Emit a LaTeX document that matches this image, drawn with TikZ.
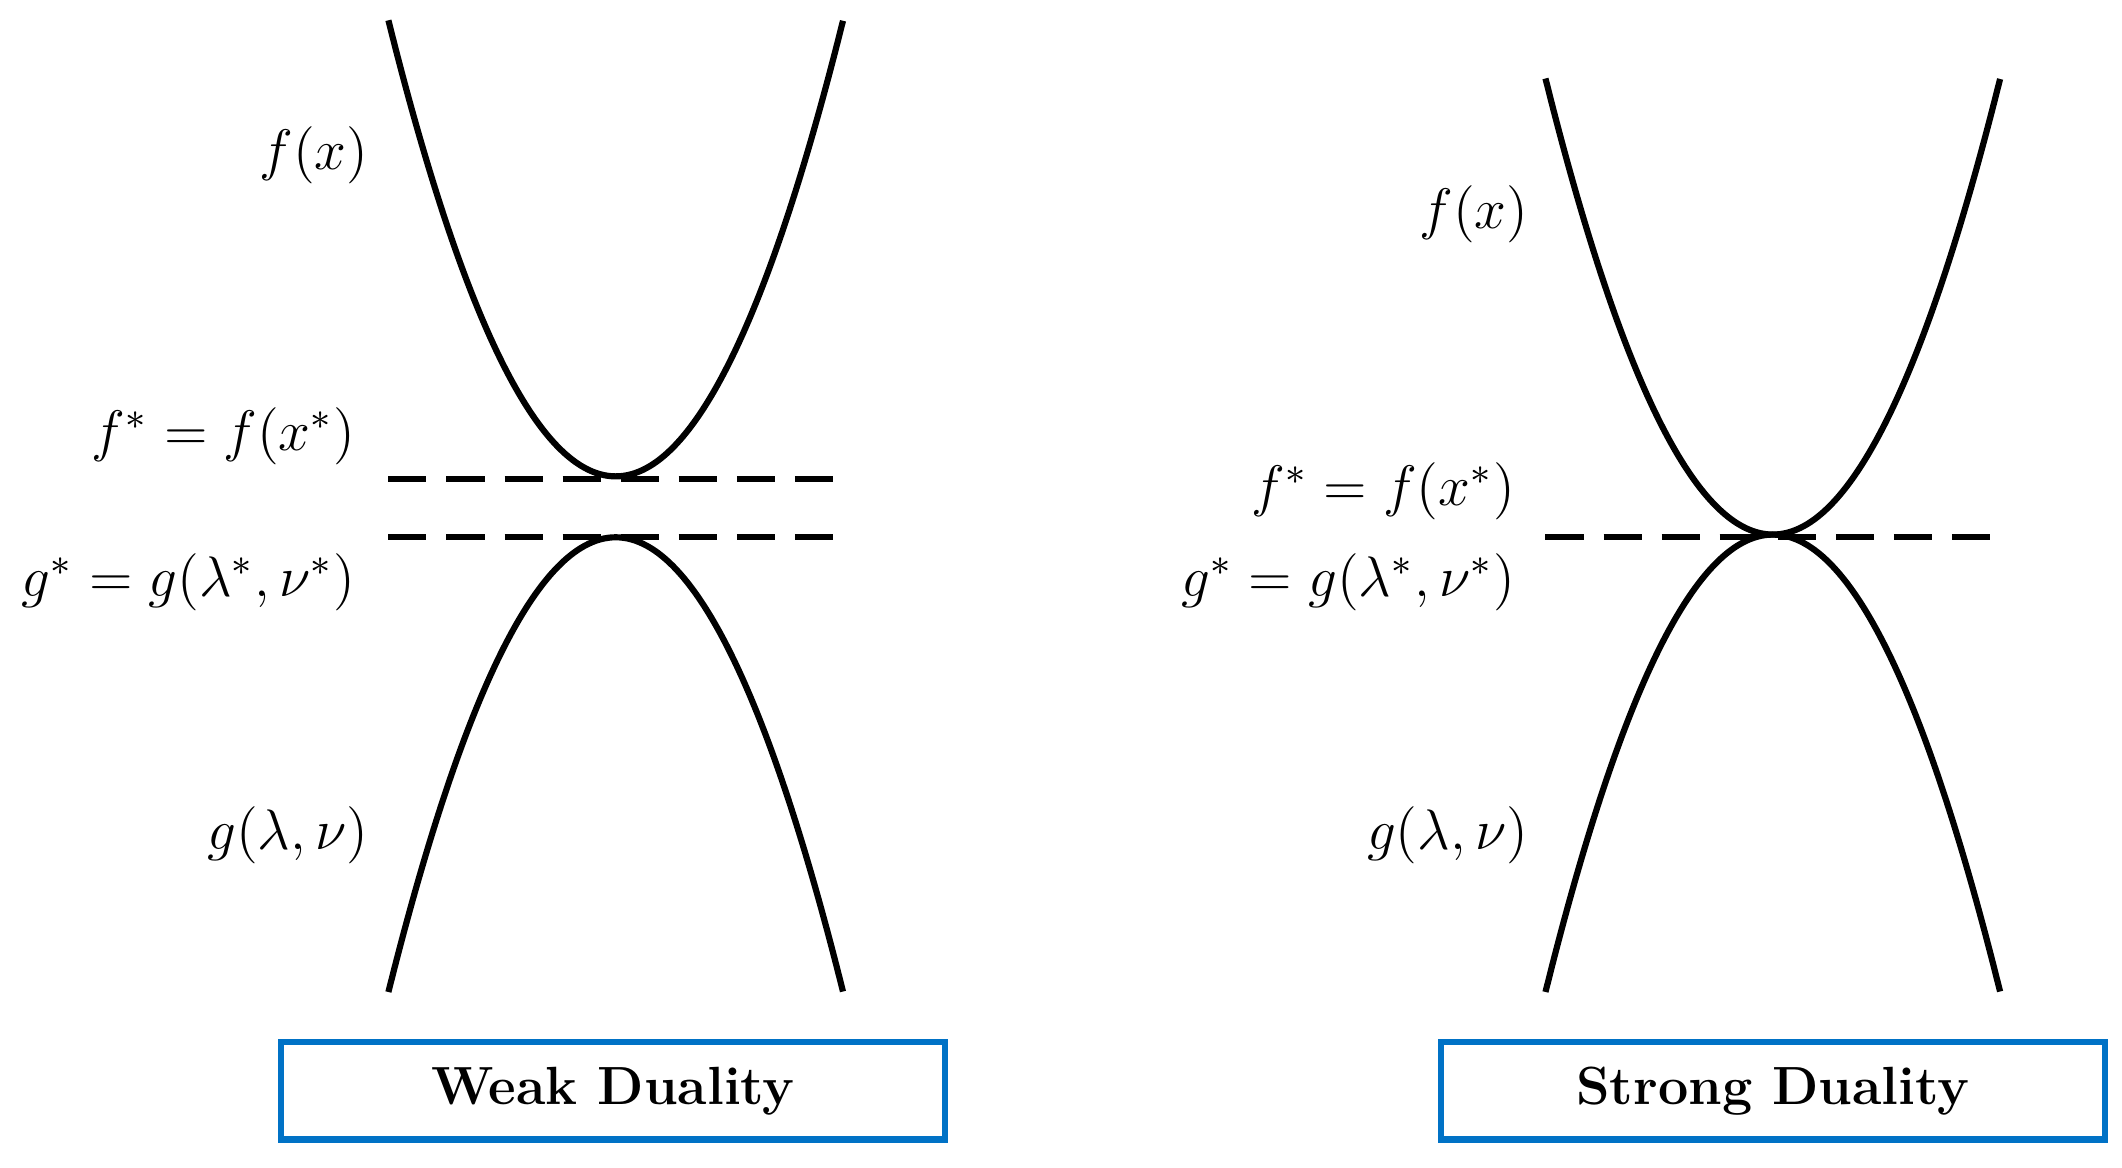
\documentclass[tikz,border=0pt]{standalone}
\usepackage{xcolor}
\usetikzlibrary{positioning}
\definecolor{boxblue}{RGB}{0,114,198}
\tikzset{
  curve/.style={line width=1.3pt, smooth, samples=60},
  level/.style={line width=1.3pt, dash pattern=on 8pt off 4.2pt},
  lbl/.style={anchor=east, inner sep=0pt, font=\fontsize{12}{14}\selectfont},
  title/.style={draw=boxblue, line width=1.3pt, minimum width=4.9cm, minimum height=0.72cm, font=\fontsize{11.3}{14}\selectfont\bfseries}
}
\begin{document}
\begin{tikzpicture}[x=0.01cm, y=-0.01cm]
\useasboundingbox (0,0) rectangle (1568,863);
% Weak duality
\draw[curve] plot[domain=-1:1] ({455+168*\x}, {352-337*\x*\x});
\draw[curve] plot[domain=-1:1] ({455+168*\x}, {397+336*\x*\x});
\draw[level] (287,354) -- (622,354);
\draw[level] (287,397) -- (622,397);
\node[lbl] (fw) at (273,115) {$f(x)$};
\node[lbl] (fsw) at (263,322) {$f^* = f(x^*)$};
\node[lbl] (gsw) at (263,430) {$g^* = g(\lambda^*,\nu^*)$};
\node[lbl] (gw) at (273,617) {$g(\lambda,\nu)$};
\node[title] (weak) at (453,806) {Weak Duality};
% Strong duality
\draw[curve] plot[domain=-1:1] ({1310+168*\x}, {395-337*\x*\x});
\draw[curve] plot[domain=-1:1] ({1310+168*\x}, {395+338*\x*\x});
\draw[level] (1142,397) -- (1478,397);
\node[lbl] (fs) at (1130,158) {$f(x)$};
\node[lbl] (fss) at (1120,363) {$f^* = f(x^*)$};
\node[lbl] (gss) at (1120,430) {$g^* = g(\lambda^*,\nu^*)$};
\node[lbl] (gs) at (1130,617) {$g(\lambda,\nu)$};
\node[title] (strong) at (1310,806) {Strong Duality};
\end{tikzpicture}
\end{document}
